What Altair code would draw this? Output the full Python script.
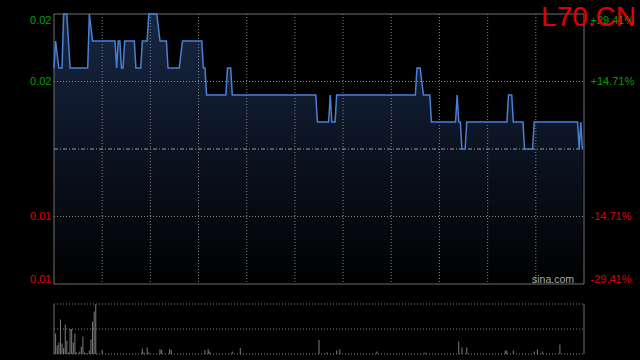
import altair as alt
import pandas as pd

# ---------------- data ----------------
ticker = ["L70.CN"]
source = ["sina.com"]

minutes = [0, 1, 3, 5, 6, 8, 10, 21, 22, 24,
           38, 39, 40, 41, 42, 43, 44, 50, 51, 54,
           55, 58, 59, 64, 66, 70, 71, 78, 80, 92,
           93, 94, 95, 107, 108, 110, 111, 163, 164, 171,
           172, 173, 175, 176, 225, 226, 228, 230, 234, 235,
           250, 251, 252, 253, 254, 256, 257, 282, 283, 285,
           286, 292, 293, 298, 299, 326, 327, 328, 329]
prices = [0.020, 0.021, 0.020, 0.020, 0.022, 0.022, 0.020, 0.020, 0.022, 0.021,
          0.021, 0.020, 0.021, 0.021, 0.020, 0.020, 0.021, 0.021, 0.020, 0.020,
          0.021, 0.021, 0.022, 0.022, 0.021, 0.021, 0.020, 0.020, 0.021, 0.021,
          0.020, 0.020, 0.019, 0.019, 0.020, 0.020, 0.019, 0.019, 0.018, 0.018,
          0.019, 0.018, 0.018, 0.019, 0.019, 0.020, 0.020, 0.019, 0.019, 0.018,
          0.018, 0.019, 0.018, 0.018, 0.017, 0.017, 0.018, 0.018, 0.019, 0.019,
          0.018, 0.018, 0.017, 0.017, 0.018, 0.018, 0.017, 0.018, 0.017]

vol_minutes = [1, 2, 3, 4, 5, 6, 7, 8, 9, 10,
               11, 12, 13, 14, 16, 17, 18, 19, 20, 22,
               23, 24, 25, 26, 27, 30, 55, 56, 58, 59,
               66, 67, 72, 73, 94, 96, 97, 111, 116, 165,
               170, 176, 178, 201, 231, 252, 254, 257, 281, 282,
               286, 299, 301, 304, 315]
volumes = [41, 17, 23, 69, 21, 12, 59, 27, 3, 50,
           50, 23, 41, 3, 5, 15, 35, 3, 2, 7,
           29, 65, 85, 100, 1, 8, 11, 3, 13, 3,
           10, 8, 10, 8, 8, 10, 5, 5, 12, 28,
           3, 7, 9, 5, 3, 25, 13, 13, 7, 7,
           7, 5, 9, 5, 19]

grid_minutes = [30, 60, 90, 120, 150, 180, 210, 240, 270, 300]
price_ticks = [0.022, 0.0195, 0.0145, 0.012]
price_grid = [0.0195, 0.0145]
prev_close = [0.017]
pct_ticks = [29.41, 14.71, -14.71, -29.41]
vol_grid = [0, 50, 100]
vol_border = [0, 330]

x_domain = [0, 330]
price_domain = [0.012, 0.022]
pct_domain = [-29.41, 29.41]
vol_domain = [0, 100]

# ---------------- styles ----------------
GREEN = "#00a000"
RED = "#e00000"
LINE = "#4a7fd6"
GRID = "#858585"
BORDER = "#707070"
FONT = "Liberation Sans"

price_df = pd.DataFrame({"t": minutes, "price": prices})
vol_df = pd.DataFrame({"t": vol_minutes, "vol": volumes})
vgrid_df = pd.DataFrame({"t": grid_minutes})
hgrid_df = pd.DataFrame({"price": price_grid})
prev_df = pd.DataFrame({"price": prev_close})
pct_df = pd.DataFrame({"pct": pct_ticks})
volgrid_df = pd.DataFrame({"vol": vol_grid})
volborder_df = pd.DataFrame({"t": vol_border})
one = pd.DataFrame({"label": ticker})
src = pd.DataFrame({"label": source})

XS = alt.Scale(domain=x_domain, nice=False, zero=False)
PS = alt.Scale(domain=price_domain, range=[270, 0], nice=False, zero=False)
PCS = alt.Scale(domain=pct_domain, range=[270, 0], nice=False, zero=False)
VS = alt.Scale(domain=vol_domain, range=[340, 290], nice=False, zero=True)

price_axis = alt.Axis(
    orient="left", values=price_ticks, format=".2f", labelFlush=True,
    ticks=False, domain=False, grid=False, labelPadding=3, title=None,
    labelFontSize=11, labelFont=FONT,
    labelColor={"condition": {"test": "datum.value > 0.017", "value": GREEN}, "value": RED},
)
pct_axis = alt.Axis(
    orient="right", values=pct_ticks, labelFlush=True,
    labelExpr="(datum.value > 0 ? '+' : '-') + format(abs(datum.value), '.2f') + '%'",
    ticks=False, domain=False, grid=False, labelPadding=6, title=None,
    labelFontSize=11, labelFont=FONT,
    labelColor={"condition": {"test": "datum.value > 0", "value": GREEN}, "value": RED},
)

area = alt.Chart(price_df).mark_area(
    interpolate="linear",
    color=alt.Gradient(
        gradient="linear",
        stops=[alt.GradientStop(color="#172744", offset=0),
               alt.GradientStop(color="#000000", offset=1)],
        x1=1, x2=1, y1=0, y2=1,
    ),
).encode(
    x=alt.X("t:Q", scale=XS, axis=None),
    y=alt.Y("price:Q", scale=PS, axis=price_axis),
    y2=alt.datum(0.012),
)

vgrid = alt.Chart(vgrid_df).mark_rule(color=GRID, strokeWidth=1, strokeDash=[1, 2]).encode(
    x="t:Q", y=alt.datum(0.022), y2=alt.datum(0.012)
)
hgrid = alt.Chart(hgrid_df).mark_rule(color=GRID, strokeWidth=1, strokeDash=[1, 2]).encode(
    y="price:Q", x=alt.datum(0), x2=alt.datum(330)
)
prev = alt.Chart(prev_df).mark_rule(color="#9a9a9a", strokeWidth=1, strokeDash=[4, 2, 1, 2]).encode(
    y="price:Q", x=alt.datum(0), x2=alt.datum(330)
)
border = alt.Chart(one).mark_rect(fillOpacity=0, stroke=BORDER, strokeWidth=1).encode(
    x=alt.datum(0), x2=alt.datum(330), y=alt.datum(0.022), y2=alt.datum(0.012)
)
line = alt.Chart(price_df).mark_line(color=LINE, strokeWidth=1.5, interpolate="linear").encode(
    x="t:Q", y="price:Q"
)
title = alt.Chart(one).mark_text(
    align="right", baseline="alphabetic", dx=52, dy=12, fontSize=28, font=FONT, color=RED
).encode(x=alt.datum(330), y=alt.datum(0.022), text="label:N")
water = alt.Chart(src).mark_text(
    align="right", baseline="alphabetic", dx=-10, dy=-1, fontSize=10.5, font=FONT, color="#aaaaaa"
).encode(x=alt.datum(330), y=alt.datum(0.012), text="label:N")

price_layer = alt.layer(area, vgrid, hgrid, prev, border, line, water, title)

pct_layer = alt.Chart(pct_df).mark_point(opacity=0).encode(
    y=alt.Y("pct:Q", scale=PCS, axis=pct_axis)
)

vol_bars = alt.Chart(vol_df).mark_rule(color="#7c7c7c", strokeWidth=1).encode(
    x=alt.X("t:Q", scale=XS, axis=None),
    y=alt.Y("vol:Q", scale=VS, axis=None),
    y2=alt.datum(0),
)
vol_grid_l = alt.Chart(volgrid_df).mark_rule(color=GRID, strokeWidth=1, strokeDash=[1, 2]).encode(
    y="vol:Q", x=alt.datum(0), x2=alt.datum(330)
)
vol_border_l = alt.Chart(volborder_df).mark_rule(color=BORDER, strokeWidth=1).encode(
    x="t:Q", y=alt.datum(0), y2=alt.datum(100)
)
vol_layer = alt.layer(vol_bars, vol_grid_l, vol_border_l)

chart = alt.layer(price_layer, pct_layer, vol_layer).resolve_scale(
    y="independent"
).properties(
    width=530, height=340,
    autosize=alt.AutoSizeParams(type="none"),
    padding={"left": 54, "top": 14, "right": 56, "bottom": 6},
    background="#000000",
).configure_view(stroke=None)

chart.save("out.html", embed_options={"renderer": "svg", "actions": False})
